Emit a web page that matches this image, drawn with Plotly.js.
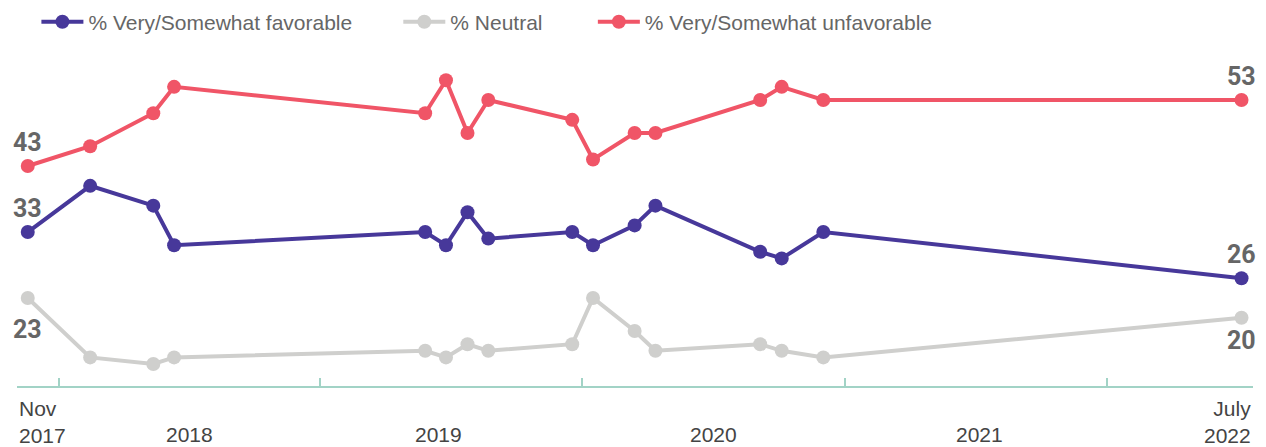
<!DOCTYPE html>
<html>
<head>
<meta charset="utf-8">
<script src="https://cdn.plot.ly/plotly-3.0.1.min.js"></script>
<style>html,body{margin:0;padding:0;background:#fff}#chart{width:1266px;height:447px}</style>
</head>
<body>
<div id="chart"></div>
<script>
// Survey dates
const dates = ['2017-11-19','2018-02-14','2018-05-13','2018-06-11','2019-05-27','2019-06-25','2019-07-25','2019-08-23','2019-12-18','2020-01-16','2020-03-14','2020-04-12','2020-09-05','2020-10-05','2020-12-02','2022-07-08'];
// Series values (%)
const favorable   = [33, 40, 37, 31, 33, 31, 36, 32, 33, 31, 34, 37, 30, 29, 33, 26];
const neutral     = [23, 14, 13, 14, 15, 14, 16, 15, 16, 23, 18, 15, 16, 15, 14, 20];
const unfavorable = [43, 46, 51, 55, 51, 56, 48, 53, 50, 44, 48, 48, 53, 55, 53, 53];
const seriesNames = ['% Very/Somewhat favorable', '% Neutral', '% Very/Somewhat unfavorable'];
const seriesColors = ['#47389a', '#cfcfcd', '#f05567'];
// Axis labels
const yearLabels = ['2018', '2019', '2020', '2021'];
const yearMid = ['2018-07-02', '2019-06-15', '2020-07-02', '2021-07-08'];
const startLabel = 'Nov<br>2017';
const endLabel = 'July<br>2022';
const xRange = ['2017-11-04', '2022-07-24'];
const yearTicks = ['2018-01-01', '2019-01-01', '2020-01-01', '2021-01-01', '2022-01-01'];

const labelFont = {family: 'Roboto, sans-serif', size: 25, color: '#666666', weight: 700};

function mk(vals, i, legendId) {
  return {
    x: dates, y: vals, name: seriesNames[i], type: 'scatter', mode: 'lines+markers',
    line: {color: seriesColors[i], width: 4},
    marker: {color: seriesColors[i], size: 14},
    cliponaxis: false, legend: legendId, hoverinfo: 'x+y'
  };
}

const traces = [
  mk(neutral, 1, 'legend2'),
  mk(favorable, 0, 'legend'),
  mk(unfavorable, 2, 'legend3')
];

const axisColor = '#a2d3c6';
const legFont = {family: 'Liberation Sans, Arial, sans-serif', size: 21, color: '#666666'};
function leg(x) {
  return {x: x, y: 1.083, xanchor: 'left', yanchor: 'middle', orientation: 'h', font: legFont, bgcolor: 'rgba(0,0,0,0)', itemwidth: 42};
}

// end-point value labels (first and last value of each series)
function endLabels(vals, shiftFirst, shiftLast) {
  const n = vals.length;
  return [
    {x: dates[0], y: vals[0], xref: 'x', yref: 'y', text: String(vals[0]), showarrow: false, xanchor: 'center', yanchor: 'middle', yshift: shiftFirst, font: labelFont},
    {x: dates[n - 1], y: vals[n - 1], xref: 'x', yref: 'y', text: String(vals[n - 1]), showarrow: false, xanchor: 'center', yanchor: 'middle', yshift: shiftLast, font: labelFont}
  ];
}

const axFont = {family: 'Liberation Sans, Arial, sans-serif', size: 21, color: '#444444'};
const annotations = yearLabels.map((t, i) => ({
  x: yearMid[i], xref: 'x', y: -0.1458, yref: 'paper', text: t, showarrow: false,
  xanchor: 'center', yanchor: 'middle', font: axFont
}));
annotations.push({x: 0, xref: 'paper', y: -0.1057, yref: 'paper', text: startLabel, showarrow: false, xanchor: 'left', yanchor: 'middle', align: 'left', font: axFont});
annotations.push({x: 1, xref: 'paper', y: -0.1057, yref: 'paper', text: endLabel, showarrow: false, xanchor: 'right', yanchor: 'middle', align: 'right', font: axFont});
annotations.push(...endLabels(unfavorable, 24, 24));
annotations.push(...endLabels(favorable, 24, 24));
annotations.push(...endLabels(neutral, -31, -23));

const layout = {
  width: 1266, height: 447,
  margin: {l: 17, r: 13, t: 50, b: 61, pad: 0, autoexpand: false},
  paper_bgcolor: '#ffffff', plot_bgcolor: '#ffffff',
  showlegend: true,
  legend: leg(0.0157),
  legend2: leg(0.3085),
  legend3: leg(0.4659),
  xaxis: {
    type: 'date', range: xRange,
    tickvals: [xRange[0]].concat(yearTicks, [xRange[1]]),
    ticktext: ['', '', '', '', '', '', ''],
    showticklabels: false,
    ticks: 'inside', ticklen: 8, tickwidth: 2, tickcolor: axisColor,
    showline: true, linecolor: axisColor, linewidth: 2,
    showgrid: false, zeroline: false, fixedrange: true
  },
  yaxis: {range: [9.67, 60.58], visible: false, fixedrange: true},
  annotations: annotations
};

Plotly.newPlot('chart', traces, layout, {displayModeBar: false, staticPlot: true});
</script>
</body>
</html>
